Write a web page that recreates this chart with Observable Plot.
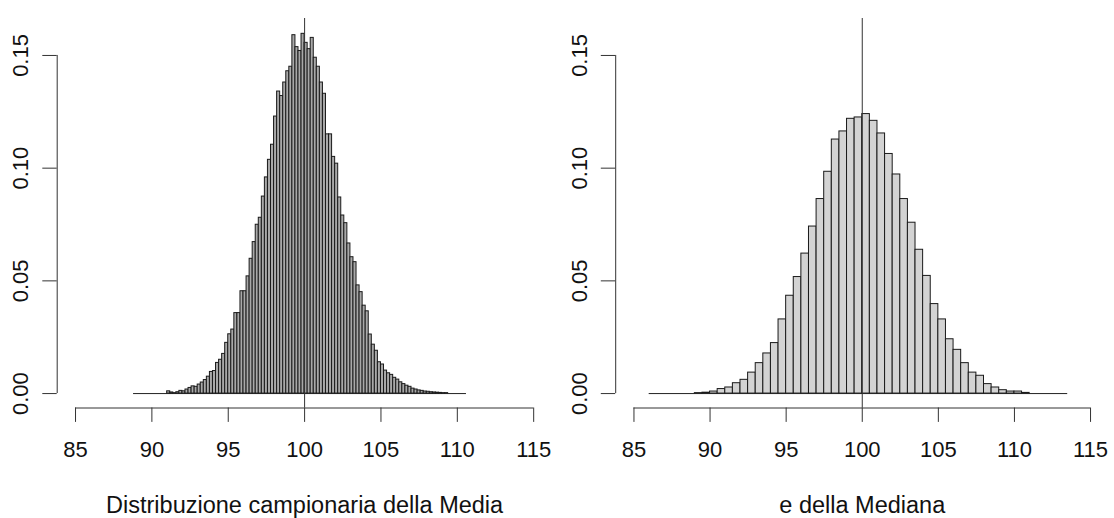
<!DOCTYPE html>
<html><head><meta charset="utf-8">
<script src="https://cdn.jsdelivr.net/npm/d3@7"></script>
<script src="https://cdn.jsdelivr.net/npm/@observablehq/plot@0.6"></script>
<style>
body{margin:0;background:#fff;}
#wrap{display:flex;width:1114px;height:518px;overflow:hidden;}
</style></head><body><div id="wrap"></div>
<script>
// axis settings (R-like)
const xTicks = [85, 90, 95, 100, 105, 110, 115];
const yTicks = [0, 0.05, 0.10, 0.15];
const xLim = [85, 115];
const yLim = [0, 0.16];
const refValue = 100;

// Left: sampling distribution of the mean (bin width 0.2)
const mediaTitle = "Distribuzione campionaria della Media";
const mediaBreaksRange = [88.8, 110.6];
const mediaFirstBin = 91.0;
const mediaBinWidth = 0.2;
const mediaDensity = [
  0.0010, 0.0005, 0.0002, 0.0006, 0.0012, 0.0010, 0.0018, 0.0025, 0.0032, 0.0030,
  0.0040, 0.0049, 0.0060, 0.0075, 0.0096, 0.0100, 0.0136, 0.0150, 0.0176, 0.0225,
  0.0263, 0.0284, 0.0357, 0.0357, 0.0454, 0.0454, 0.0520, 0.0598, 0.0672, 0.0749,
  0.0780, 0.0874, 0.0959, 0.1037, 0.1104, 0.1229, 0.1340, 0.1320, 0.1380, 0.1430,
  0.1450, 0.1590, 0.1537, 0.1520, 0.1596, 0.1556, 0.1528, 0.1578, 0.1490, 0.1450,
  0.1380, 0.1330, 0.1150, 0.1150, 0.1050, 0.1020, 0.0870, 0.0790, 0.0756, 0.0666,
  0.0605, 0.0583, 0.0480, 0.0450, 0.0390, 0.0365, 0.0262, 0.0217, 0.0190, 0.0139,
  0.0129, 0.0102, 0.0090, 0.0083, 0.0070, 0.0062, 0.0050, 0.0042, 0.0035, 0.0030,
  0.0022, 0.0018, 0.0014, 0.0012, 0.0009, 0.0008, 0.0006, 0.0005, 0.0004, 0.0003,
  0.0002, 0.0002
];

// Right: sampling distribution of the median (bin width 0.5)
const medianaTitle = "e della Mediana";
const medianaBreaksRange = [86.0, 113.5];
const medianaFirstBin = 89.0;
const medianaBinWidth = 0.5;
const medianaDensity = [
  0.0002, 0.0004, 0.0009, 0.0020, 0.0027, 0.0046, 0.0061, 0.0093, 0.0135, 0.0178,
  0.0224, 0.0329, 0.0434, 0.0517, 0.0621, 0.0741, 0.0863, 0.0984, 0.1127, 0.1163,
  0.1219, 0.1225, 0.1240, 0.1210, 0.1154, 0.1063, 0.0972, 0.0863, 0.0758, 0.0638,
  0.0522, 0.0397, 0.0329, 0.0241, 0.0194, 0.0135, 0.0093, 0.0079, 0.0042, 0.0027,
  0.0015, 0.0009, 0.0009, 0.0003
];

const mediaFill = "#a9a9a9";
const medianaFill = "#d3d3d3";

function toBins(first, w, dens) {
  return dens.map((d, i) => ({
    x0: +(first + i * w).toFixed(2),
    x1: +(first + (i + 1) * w).toFixed(2),
    d
  }));
}

const FONT = "'Liberation Sans', Arial, Helvetica, sans-serif";
const FS = 22;
const FS_TITLE = 23.5;

function panel({bins, range, fill, title, mLeft, mRight}) {
  const xpad = (xLim[1] - xLim[0]) * 0.04;
  const ypad = (yLim[1] - yLim[0]) * 0.04;
  const x0 = xLim[0] - xpad;
  const yb = yLim[0] - ypad;
  return Plot.plot({
    width: 557,
    height: 518,
    marginTop: 18,
    marginBottom: 110.5,
    marginLeft: mLeft,
    marginRight: mRight,
    x: {domain: [x0, xLim[1] + xpad]},
    y: {domain: [yb, yLim[1] + ypad]},
    style: {fontFamily: FONT, fontSize: FS + "px", color: "#111", background: "white", overflow: "visible"},
    marks: [
      Plot.ruleY([{y: 0, a: range[0], b: range[1]}], {y: "y", x1: "a", x2: "b", stroke: "#222", strokeWidth: 1}),
      Plot.rectY(bins, {x1: "x0", x2: "x1", y: "d", fill, stroke: "#1a1a1a", strokeWidth: 1}),
      Plot.ruleX([refValue], {stroke: "#333", strokeWidth: 1}),
      // x axis line (first to last tick)
      Plot.ruleY([{y: yb, a: xTicks[0], b: xTicks[xTicks.length - 1]}], {y: "y", x1: "a", x2: "b", stroke: "#333"}),
      Plot.axisX({ticks: xTicks, tickSize: 14.4, tickPadding: 19, fontSize: FS, label: null, stroke: "#333"}),
      // y axis line (first to last tick)
      Plot.ruleX([{x: x0, a: yTicks[0], b: yTicks[yTicks.length - 1]}], {x: "x", y1: "a", y2: "b", stroke: "#333"}),
      Plot.axisY({ticks: yTicks, tickSize: 14.4, tickFormat: () => "", label: null, stroke: "#333"}),
      Plot.text(yTicks, {x: x0, y: d => d, text: d => d3.format(".2f")(d), rotate: -90, dx: -36, textAnchor: "middle", fontSize: FS, fill: "#111"}),
      Plot.text([title], {frameAnchor: "bottom", dy: 105, text: d => d, fontSize: FS_TITLE, fill: "#111"})
    ]
  });
}

const wrap = document.getElementById("wrap");
wrap.append(panel({
  bins: toBins(mediaFirstBin, mediaBinWidth, mediaDensity),
  range: mediaBreaksRange, fill: mediaFill, title: mediaTitle, mLeft: 56.7, mRight: 5.5
}));
wrap.append(panel({
  bins: toBins(medianaFirstBin, medianaBinWidth, medianaDensity),
  range: medianaBreaksRange, fill: medianaFill, title: medianaTitle, mLeft: 58.2, mRight: 5.7
}));
</script></body></html>
